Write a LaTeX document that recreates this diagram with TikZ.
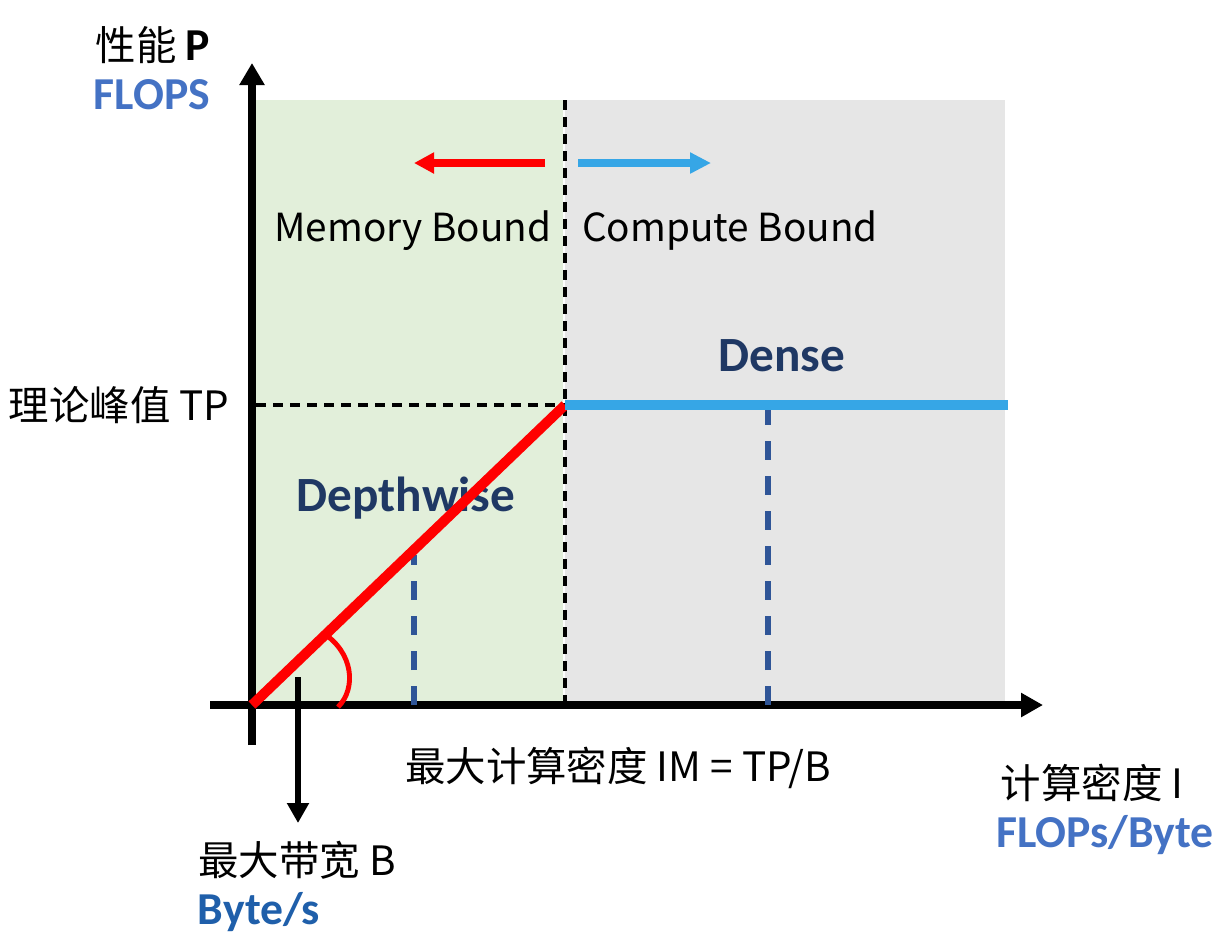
\documentclass[tikz,border=0pt]{standalone}
\usepackage{fontspec}
\setmainfont{Noto Sans CJK SC}
\newfontfamily\lat{Carlito}
\usetikzlibrary{arrows.meta}
\definecolor{greenbg}{HTML}{E2EFDA}
\definecolor{graybg}{HTML}{E6E6E6}
\definecolor{redc}{HTML}{FF0000}
\definecolor{bluec}{HTML}{36A6E6}
\definecolor{dblue}{HTML}{2F5597}
\definecolor{navy}{HTML}{1F3864}
\definecolor{lblue}{HTML}{4472C4}
\definecolor{bblue}{HTML}{1F5FAA}
\tikzset{
  axisline/.style={line width=2.1pt, black},
  redline/.style={line width=2.85pt, redc},
  blueline/.style={line width=2.85pt, bluec},
  blkdash/.style={line width=0.9pt, black, dash pattern=on 0.1cm off 0.07cm},
  bluedash/.style={line width=1.6pt, dblue, dash pattern=on 0.19cm off 0.16cm},
  lbl/.style={inner sep=0pt, font=\fontsize{11.5}{14}\selectfont},
  latlbl/.style={inner sep=0pt, font=\fontsize{11}{14}\selectfont},
  boldlbl/.style={inner sep=0pt, font=\fontsize{13}{15}\lat\bfseries},
  bigbold/.style={inner sep=0pt, font=\fontsize{14}{16}\lat\bfseries, text=navy},
}
\begin{document}
\begin{tikzpicture}[x=0.01cm,y=-0.01cm]
\useasboundingbox (0,0) rectangle (1228,944);
% backgrounds
\fill[greenbg] (255,100) rectangle (563,705);
\fill[graybg] (565,100) rectangle (1005,705);
% coordinates
\coordinate (O) at (252,705);
\coordinate (ytop) at (252,63);
\coordinate (ybot) at (252,745);
\coordinate (xleft) at (210,705);
\coordinate (xright) at (1043,705);
\coordinate (M) at (565,405);
\coordinate (Mtop) at (565,100);
\coordinate (Mbot) at (565,705);
\coordinate (TPl) at (256,405);
\coordinate (Bend) at (1008,405);
\coordinate (d1top) at (414,555);
\coordinate (d1bot) at (414,705);
\coordinate (d2top) at (768,408);
\coordinate (d2bot) at (768,705);
\coordinate (bs) at (298,677);
\coordinate (be) at (298,823);
\coordinate (ra1) at (545,163);
\coordinate (ra2) at (414,163);
\coordinate (ba1) at (578,163);
\coordinate (ba2) at (711,163);
\coordinate (arcs) at (323,633);
\coordinate (arce) at (338,707);
% axes
\draw[axisline, -{Triangle[length=0.22cm,width=0.24cm]}] (ybot) -- (ytop);
\draw[axisline, -{Triangle[length=0.22cm,width=0.23cm]}] (xleft) -- (xright);
\draw[line width=1.5pt, -{Triangle[length=0.2cm,width=0.21cm]}] (bs) -- (be);
% dashed lines
\draw[blkdash] (Mtop) -- (Mbot);
\draw[blkdash] (TPl) -- (M);
\draw[bluedash] (d1bot) -- (d1top);
\draw[bluedash] (d2bot) -- (d2top);
% direction arrows
\draw[line width=2.2pt, redc, -{Triangle[length=0.2cm,width=0.2cm]}] (ra1) -- (ra2);
\draw[line width=2.2pt, bluec, -{Triangle[length=0.21cm,width=0.2cm]}] (ba1) -- (ba2);
% labels
\node[lbl] (perf) at (153,45) {性能 {\fontsize{13}{15}\lat\bfseries P}};
\node[boldlbl, text=lblue] (flops) at (152,95) {FLOPS};
\node[latlbl] (mem) at (413,231) {Memory Bound};
\node[latlbl] (comp) at (730,231) {Compute Bound};
\node[bigbold] (dense) at (782,356) {Dense};
\node[bigbold] (depth) at (406,498) {Depthwise};
\node[lbl] (tp) at (119,405) {理论峰值 TP};
\node[lbl] (im) at (618,768) {最大计算密度 IM = TP/B};
\node[lbl] (ci) at (1092,783) {计算密度 I};
\node[boldlbl, text=lblue] (fb) at (1105,835) {FLOPs/Byte};
\node[lbl] (bw) at (297,860) {最大带宽 B};
\node[boldlbl, text=bblue] (bys) at (259,912) {Byte/s};
% roofline
\draw[redline] (O) -- (M);
\draw[blueline] (M) -- (Bend);
\draw[line width=1.4pt, redc] (arcs) .. controls (353,652) and (357,688) .. (arce);
\end{tikzpicture}
\end{document}
